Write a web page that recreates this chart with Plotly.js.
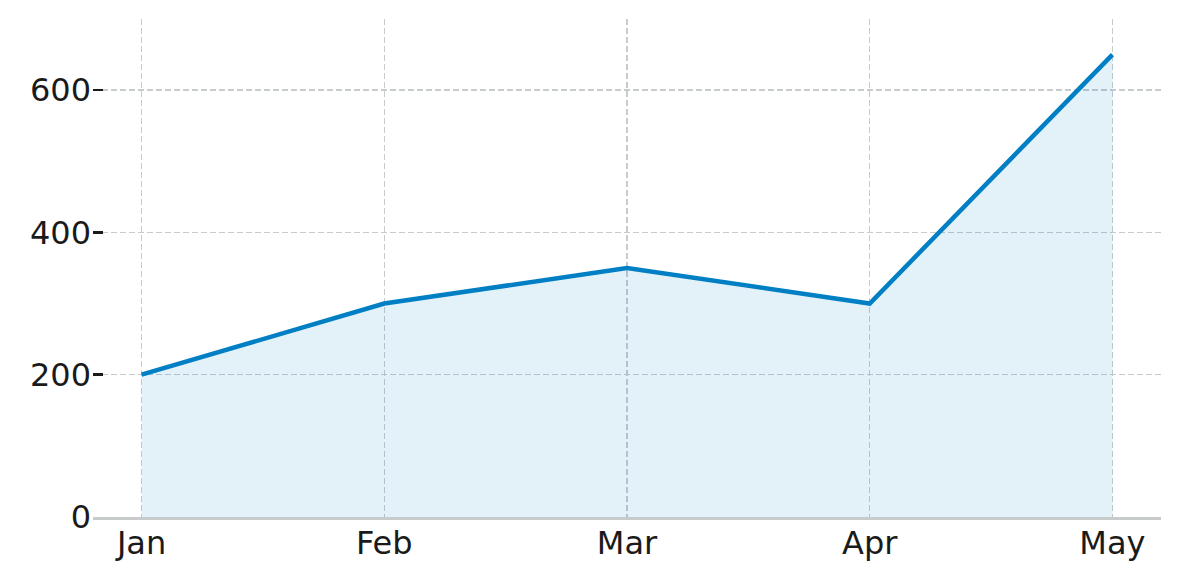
<!DOCTYPE html>
<html>
<head>
<meta charset="utf-8">
<script src="https://cdn.plot.ly/plotly-3.0.1.min.js"></script>
<style>html,body{margin:0;padding:0;background:#fff;}#chart{width:1180px;height:580px;}</style>
</head>
<body>
<div id="chart"></div>
<script>
const months = ["Jan", "Feb", "Mar", "Apr", "May"];
const values = [200, 300, 350, 300, 650];
const yTicks = [0, 200, 400, 600];

const trace = {
  x: months,
  y: values,
  type: "scatter",
  mode: "lines",
  fill: "tozeroy",
  fillcolor: "rgba(0,128,200,0.11)",
  line: {color: "#007fc4", width: 4.5},
  hoverinfo: "x+y"
};

const layout = {
  width: 1180,
  height: 580,
  margin: {l: 93, r: 19, t: 19, b: 62.5},
  paper_bgcolor: "#ffffff",
  plot_bgcolor: "#ffffff",
  showlegend: false,
  font: {family: "DejaVu Sans, sans-serif", size: 32, color: "#1a1a1a"},
  xaxis: {
    type: "category",
    range: [-0.2, 4.2],
    showgrid: true,
    gridcolor: "#c6cbce",
    griddash: "6px,3px",
    gridwidth: 1.4,
    showline: true,
    linecolor: "#c8cbcc",
    linewidth: 2.5,
    ticks: "",
    zeroline: false,
    ticklabelstandoff: -4,
    tickfont: {family: "DejaVu Sans, sans-serif", size: 32, color: "#1a1a1a"}
  },
  yaxis: {
    range: [0, 700],
    tickvals: yTicks,
    ticktext: yTicks.map(String),
    showgrid: true,
    gridcolor: "#c6cbce",
    griddash: "6px,3px",
    gridwidth: 1.4,
    showline: false,
    zeroline: false,
    ticks: "inside",
    ticklen: 10,
    tickwidth: 2.5,
    tickcolor: "#1a1a1a",
    ticklabelstandoff: 1,
    tickfont: {family: "DejaVu Sans, sans-serif", size: 32, color: "#1a1a1a"}
  }
};

Plotly.newPlot("chart", [trace], layout, {staticPlot: true, displayModeBar: false});
</script>
</body>
</html>
